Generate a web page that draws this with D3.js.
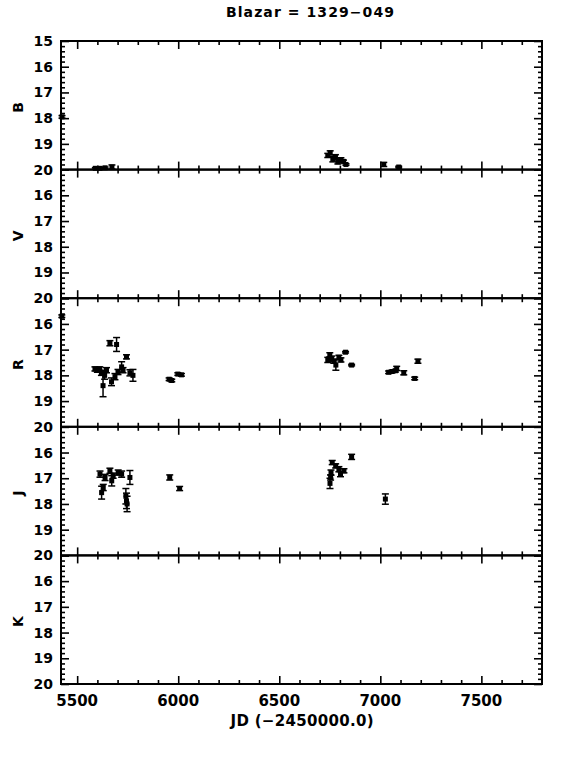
<!DOCTYPE html>
<html>
<head>
<meta charset="utf-8">
<script src="https://cdn.jsdelivr.net/npm/d3@7"></script>
<style>
  body { margin: 0; background: #fff; }
  text { font-family: "DejaVu Sans", sans-serif; font-weight: bold; fill: #000; }
</style>
</head>
<body>
<div id="chart"></div>
<script>
// band names, top to bottom
const bands = ["B", "V", "R", "J", "K"];

// B band
const bJd  = [5425, 5590, 5613, 5638, 5672, 6740, 6752, 6765, 6778, 6790, 6805, 6818, 6830, 7017, 7091];
const bMag = [17.95, 19.95, 19.95, 19.93, 19.9, 19.45, 19.35, 19.6, 19.5, 19.7, 19.62, 19.68, 19.8, 19.8, 19.9];
const bErr = [0.05, 0.03, 0.03, 0.03, 0.08, 0.08, 0.08, 0.1, 0.08, 0.08, 0.08, 0.05, 0.03, 0.08, 0.03];

// V band (no data)
const vJd  = [];
const vMag = [];
const vErr = [];

// R band
const rJd  = [5424, 5588, 5600, 5612, 5620, 5628, 5636, 5645, 5662, 5670, 5687, 5695, 5702, 5720, 5727, 5744, 5761, 5776,
              5955, 5968, 5998, 6016,
              6740, 6750, 6760, 6770, 6780, 6795, 6805, 6828, 6858, 7041, 7058, 7075, 7081, 7116, 7170, 7186];
const rMag = [15.7, 17.75, 17.8, 17.75, 17.9, 18.4, 18.0, 17.8, 16.75, 18.25, 18.05, 16.8, 17.87, 17.67, 17.8, 17.28, 17.9, 18.0,
              18.15, 18.2, 17.95, 17.98,
              17.4, 17.2, 17.35, 17.45, 17.6, 17.3, 17.4, 17.1, 17.6, 17.88, 17.85, 17.82, 17.73, 17.9, 18.12, 17.45];
const rErr = [0.05, 0.08, 0.08, 0.08, 0.1, 0.43, 0.15, 0.1, 0.1, 0.15, 0.12, 0.27, 0.1, 0.2, 0.1, 0.08, 0.12, 0.23,
              0.05, 0.05, 0.05, 0.05,
              0.1, 0.08, 0.1, 0.08, 0.2, 0.08, 0.08, 0.03, 0.03, 0.05, 0.05, 0.05, 0.08, 0.08, 0.05, 0.08];

// J band
const jJd  = [5613, 5621, 5629, 5638, 5662, 5671, 5678, 5703, 5720, 5741, 5744, 5747, 5761, 5958, 6007,
              6751, 6754, 6756, 6762, 6779, 6795, 6803, 6820, 6858, 7025];
const jMag = [16.84, 17.56, 17.36, 16.97, 16.71, 17.1, 16.9, 16.78, 16.84, 17.7, 17.88, 18.0, 16.97, 16.97, 17.4,
              17.2, 16.97, 16.78, 16.39, 16.52, 16.65, 16.84, 16.71, 16.17, 17.81];
const jErr = [0.12, 0.25, 0.12, 0.12, 0.1, 0.2, 0.1, 0.1, 0.12, 0.3, 0.3, 0.3, 0.27, 0.1, 0.08,
              0.2, 0.1, 0.1, 0.08, 0.08, 0.1, 0.1, 0.08, 0.1, 0.2];

// K band (no data)
const kJd  = [];
const kMag = [];
const kErr = [];

const series = [
  [bJd, bMag, bErr], [vJd, vMag, vErr], [rJd, rMag, rErr], [jJd, jMag, jErr], [kJd, kMag, kErr]
];

const majorX = [5500, 6000, 6500, 7000, 7500];
const majorY = [15, 16, 17, 18, 19, 20];

const W = 572, H = 762;
const plotLeft = 61, plotRight = 542, plotTop = 41, panelH = 128.6;

const svg = d3.select("#chart").append("svg").attr("width", W).attr("height", H);

const x = d3.scaleLinear().domain([5420, 7800]).range([plotLeft, plotRight]);
const minorX = d3.range(5500, 7800, 100).filter(v => v % 500 !== 0);
const minorY = d3.range(15, 20.001, 0.2).map(v => +v.toFixed(1)).filter(v => v % 1 !== 0);

// title
svg.append("text").attr("x", 310).attr("y", 17).attr("text-anchor", "middle")
  .attr("font-size", "14px").attr("textLength", 168).attr("lengthAdjust", "spacing")
  .text("Blazar = 1329\u2212049");

bands.forEach((band, i) => {
  const y0 = plotTop + i * panelH;
  const y = d3.scaleLinear().domain([15, 20]).range([y0, y0 + panelH]);
  const g = svg.append("g");

  // frame
  g.append("rect").attr("x", plotLeft).attr("y", y0).attr("width", plotRight - plotLeft).attr("height", panelH)
    .attr("fill", "none").attr("stroke", "#000").attr("stroke-width", 2);

  // ticks, all pointing inward
  const addAxis = (axis, tf) => {
    const a = g.append("g").attr("transform", tf).call(axis);
    a.select(".domain").remove();
    a.selectAll("line").attr("stroke-width", 1.6);
    return a;
  };
  addAxis(d3.axisTop(x).tickValues(majorX).tickSize(-8).tickFormat(""), `translate(0,${y0})`);
  addAxis(d3.axisTop(x).tickValues(minorX).tickSize(-4).tickFormat(""), `translate(0,${y0})`);
  addAxis(d3.axisBottom(x).tickValues(majorX).tickSize(-8).tickFormat(""), `translate(0,${y0 + panelH})`);
  addAxis(d3.axisBottom(x).tickValues(minorX).tickSize(-4).tickFormat(""), `translate(0,${y0 + panelH})`);
  addAxis(d3.axisRight(y).tickValues(majorY).tickSize(8).tickFormat(""), `translate(${plotLeft},0)`);
  addAxis(d3.axisRight(y).tickValues(minorY).tickSize(4).tickFormat(""), `translate(${plotLeft},0)`);
  addAxis(d3.axisLeft(y).tickValues(majorY).tickSize(8).tickFormat(""), `translate(${plotRight},0)`);
  addAxis(d3.axisLeft(y).tickValues(minorY).tickSize(4).tickFormat(""), `translate(${plotRight},0)`);

  // y tick labels
  const labs = i === 0 ? majorY : majorY.slice(1);
  g.selectAll(".ylab").data(labs).enter().append("text")
    .attr("x", plotLeft - 8).attr("y", d => y(d) + 5)
    .attr("text-anchor", "end").attr("font-size", "14px").text(d => d);

  // band label
  g.append("text").attr("transform", `translate(23,${y0 + panelH / 2 + 2}) rotate(-90)`)
    .attr("text-anchor", "middle").attr("font-size", "14px").text(band);

  // data
  const [jd, mag, err] = series[i];
  const pts = jd.map((d, k) => ({ jd: d, mag: mag[k], err: err[k] }));
  const pg = g.selectAll(".pt").data(pts).enter().append("g");
  pg.append("line").attr("x1", d => x(d.jd)).attr("x2", d => x(d.jd))
    .attr("y1", d => y(d.mag - d.err)).attr("y2", d => y(d.mag + d.err))
    .attr("stroke", "#000").attr("stroke-width", 1.5);
  pg.append("line").attr("x1", d => x(d.jd) - 3.5).attr("x2", d => x(d.jd) + 3.5)
    .attr("y1", d => y(d.mag - d.err)).attr("y2", d => y(d.mag - d.err))
    .attr("stroke", "#000").attr("stroke-width", 1.5);
  pg.append("line").attr("x1", d => x(d.jd) - 3.5).attr("x2", d => x(d.jd) + 3.5)
    .attr("y1", d => y(d.mag + d.err)).attr("y2", d => y(d.mag + d.err))
    .attr("stroke", "#000").attr("stroke-width", 1.5);
  pg.append("rect").attr("x", d => x(d.jd) - 2.5).attr("y", d => y(d.mag) - 2.5)
    .attr("width", 5).attr("height", 5).attr("fill", "#000");

  // x tick labels on bottom panel
  if (i === bands.length - 1) {
    g.selectAll(".xlab").data(majorX).enter().append("text")
      .attr("x", d => x(d)).attr("y", y0 + panelH + 22)
      .attr("text-anchor", "middle").attr("font-size", "15px").text(d => d);
  }
});

svg.append("text").attr("x", 302).attr("y", 726).attr("text-anchor", "middle")
  .attr("font-size", "15px").attr("textLength", 143).attr("lengthAdjust", "spacing")
  .text("JD (\u22122450000.0)");
</script>
</body>
</html>
